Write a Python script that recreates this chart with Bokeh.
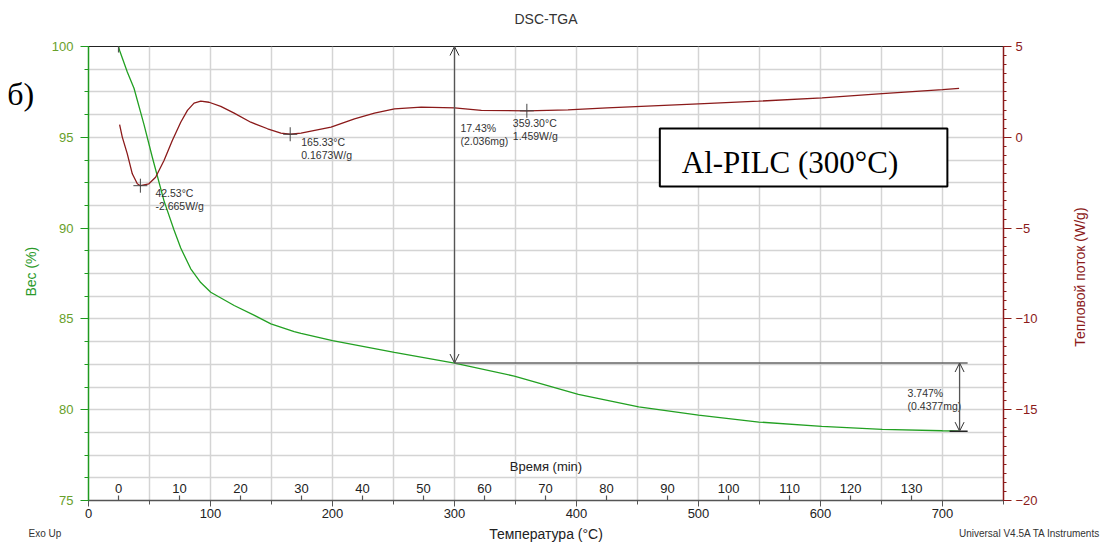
import numpy as np
from bokeh.plotting import figure
from bokeh.models import (Range1d, LinearAxis, SingleIntervalTicker, Label,
                          Arrow, OpenHead, BoxAnnotation)
from bokeh.core.properties import value
from bokeh.embed import file_html
from bokeh.resources import INLINE

# ---------------- data ----------------
tga_temp = [24.6, 25.5, 31.8, 37.3, 45.5, 52.3, 61.9, 70.1, 75.6, 83.8, 92.0, 100.2,
            119.4, 136.0, 149.5, 168.6, 174.2, 200.0, 250.7, 300.0, 349.0, 401.5,
            451.0, 500.0, 549.5, 601.0, 650.6, 700.0, 714.0]
tga_weight = [100.0, 99.78, 98.6, 97.7, 95.7, 93.9, 91.5, 89.9, 88.9, 87.76, 87.0, 86.47,
              85.74, 85.19, 84.73, 84.3, 84.2, 83.8, 83.16, 82.57, 81.85, 80.85,
              80.15, 79.7, 79.32, 79.08, 78.92, 78.84, 78.82]

dsc_temp = [25.5, 27.7, 31.8, 35.9, 40.0, 42.53, 49.5, 55.0, 61.9, 68.7, 75.6, 81.1,
            86.5, 92.0, 98.8, 108.4, 119.4, 133.0, 146.8, 157.7, 165.33, 174.2, 198.8,
            218.0, 234.4, 250.8, 272.7, 300.0, 322.0, 359.3, 393.0, 425.0, 500.0,
            549.3, 601.3, 650.6, 700.0, 713.6]
dsc_flow = [0.70, 0.01, -0.91, -2.01, -2.56, -2.665, -2.56, -2.2, -1.28, -0.18, 0.83, 1.48,
            1.88, 1.99, 1.93, 1.70, 1.33, 0.83, 0.47, 0.23, 0.1673, 0.23, 0.56,
            1.02, 1.33, 1.57, 1.66, 1.62, 1.48, 1.459, 1.51, 1.62, 1.84,
            1.99, 2.17, 2.40, 2.62, 2.69]

peak_temp = [42.53, 165.33, 359.30]
peak_flow = [-2.665, 0.1673, 1.459]

step_temp = [300.0, 714.0]
step_w_start = [100.0, 82.57]
step_w_end = [82.57, 78.82]
step_loss_pct = [17.43, 3.747]
step_loss_mg = [2.036, 0.4377]

time_ticks = [0, 10, 20, 30, 40, 50, 60, 70, 80, 90, 100, 110, 120, 130]
time_start_temp = 24.6     # °C at t = 0
heating_rate = 5.0         # °C / min

FONT = "Liberation Sans"
GREEN = "#1f9a1f"
GREEN_LBL = "#68a02a"
RED = "#8b1a1a"

# ---------------- figure ----------------
p = figure(width=1105, height=546, x_range=Range1d(0, 750), y_range=Range1d(75, 100),
           output_backend="svg", toolbar_location=None,
           min_border_left=88, min_border_right=102, min_border_top=46, min_border_bottom=46)
p.background_fill_color = "white"
p.border_fill_color = "white"
p.outline_line_color = "#222222"
p.outline_line_width = 1

p.extra_y_ranges = {"hf": Range1d(-20, 5)}

# left axis
ly = p.yaxis[0]
ly.ticker = SingleIntervalTicker(interval=5, num_minor_ticks=4)
ly.axis_line_color = GREEN
ly.axis_line_width = 1.5
ly.major_tick_line_color = GREEN
ly.minor_tick_line_color = GREEN
ly.major_tick_out = 8
ly.major_tick_in = 0
ly.minor_tick_out = 4
ly.minor_tick_in = 0
ly.major_label_standoff = 7
ly.major_label_text_color = GREEN_LBL
ly.major_label_text_font = FONT
ly.major_label_text_font_size = "13px"

# right axis
ry = LinearAxis(y_range_name="hf", ticker=SingleIntervalTicker(interval=5, num_minor_ticks=10))
ry.axis_line_color = RED
ry.axis_line_width = 1.5
ry.major_tick_line_color = RED
ry.minor_tick_line_color = RED
ry.major_tick_out = 8
ry.major_tick_in = 0
ry.minor_tick_out = 3
ry.minor_tick_in = 0
ry.major_label_standoff = 4
ry.major_label_text_color = RED
ry.major_label_text_font = FONT
ry.major_label_text_font_size = "13px"
p.add_layout(ry, "right")

# bottom axis (temperature)
bx = p.xaxis[0]
bx.ticker = SingleIntervalTicker(interval=100, num_minor_ticks=2)
bx.axis_line_color = "#555555"
bx.axis_line_width = 1.5
bx.major_tick_line_color = "#555555"
bx.minor_tick_line_color = "#555555"
bx.major_tick_out = 6
bx.major_tick_in = 0
bx.minor_tick_out = 4
bx.minor_tick_in = 0
bx.major_label_standoff = 2
bx.major_label_text_color = "#222222"
bx.major_label_text_font = FONT
bx.major_label_text_font_size = "13px"
bx.axis_label = "Температура (°C)"
bx.axis_label_standoff = 5
bx.axis_label_text_font = FONT
bx.axis_label_text_font_size = "14px"
bx.axis_label_text_font_style = "normal"
bx.axis_label_text_color = "#222222"

# grids
p.xgrid.ticker = SingleIntervalTicker(interval=50)
p.ygrid.ticker = SingleIntervalTicker(interval=1.25)
for g in (p.xgrid[0], p.ygrid[0]):
    g.grid_line_color = "#d4d4d4"
    g.grid_line_width = 1.5

# ---------------- curves ----------------
p.line(tga_temp, tga_weight, line_color="#22a022", line_width=1.3)
p.line(dsc_temp, dsc_flow, y_range_name="hf", line_color=RED, line_width=1.3)

# start marker of TGA
p.scatter([tga_temp[0]], [tga_weight[0]], marker="dash", angle=np.pi / 2, size=12,
          line_color="#555555", line_width=1.2)

# peak crosses and labels
p.scatter(peak_temp, peak_flow, y_range_name="hf", marker="cross", size=14,
          line_color="#444444", line_width=1)
peak_xoff = [15, 11, -14]
peak_yoff = [7, 8, 12]
line1 = [f"{t:.2f}°C" for t in peak_temp]
line2 = [f"{w:.4g}W/g" for w in peak_flow]
for i in range(len(peak_temp)):
    for txt, extra in ((line1[i], 0), (line2[i], 13)):
        p.text([peak_temp[i]], [peak_flow[i]], text=[txt], y_range_name="hf",
               x_offset=peak_xoff[i], y_offset=peak_yoff[i] + extra,
               text_font=value(FONT), text_font_size="10.5px", text_color="#333333",
               text_align="left", text_baseline="middle")

# time axis drawn inside the plot
time_x = [time_start_temp + heating_rate * t for t in time_ticks]
p.segment(x0=time_x, y0=[75] * len(time_x), x1=time_x, y1=[75.28] * len(time_x),
          line_color="#555555", line_width=1.2)
p.text(time_x, [75] * len(time_x), text=[str(t) for t in time_ticks], y_offset=-12,
       text_font=value(FONT), text_font_size="13px", text_color="#222222",
       text_align="center", text_baseline="middle")
p.add_layout(Label(x=375, y=76.87, text="Время (min)", text_font=FONT,
                   text_font_size="13px", text_color="#222222",
                   text_align="center", text_baseline="middle"))

# step analysis
p.segment(x0=[step_temp[0]], y0=[step_w_end[0]], x1=[720.6], y1=[step_w_end[0]],
          line_color="#666666", line_width=1.5)
p.segment(x0=[705.8], y0=[step_w_end[1]], x1=[720.6], y1=[step_w_end[1]],
          line_color="#222222", line_width=1.5)
for i in range(len(step_temp)):
    p.add_layout(Arrow(x_start=step_temp[i], y_start=step_w_end[i],
                       x_end=step_temp[i], y_end=step_w_start[i],
                       start=OpenHead(size=9, line_color="#333333", line_width=1),
                       end=OpenHead(size=9, line_color="#333333", line_width=1),
                       line_color="#555555", line_width=1.3))
step_anchor_y = [step_w_start[0], step_w_start[1]]
step_xoff = [6, -52]
step_yoff = [81, 30]
for i in range(len(step_temp)):
    for txt, extra in ((f"{step_loss_pct[i]:.4g}%", 0), (f"({step_loss_mg[i]:.4g}mg)", 13)):
        p.text([step_temp[i]], [step_anchor_y[i]], text=[txt],
               x_offset=step_xoff[i], y_offset=step_yoff[i] + extra,
               text_font=value(FONT), text_font_size="10.5px", text_color="#333333",
               text_align="left", text_baseline="middle")

# sample box
p.add_layout(BoxAnnotation(left=468.3, right=704.0, bottom=92.29, top=95.48,
                           fill_color="white", fill_alpha=1.0,
                           line_color="black", line_width=2, line_alpha=1.0))
p.add_layout(Label(x=486.3, y=93.62, text="Al-PILC (300°C)", text_font="Liberation Serif",
                   text_font_size="31px", text_color="black",
                   text_align="left", text_baseline="middle"))

# ---------------- texts around the frame (side-panel labels, placed in data units) ----------------
def side_label(side, x, y, text, size, color="#222222", align="center", font=FONT, angle=0.0):
    p.add_layout(Label(x=x, y=y, text=text, text_font=font, text_font_size=size,
                       text_color=color, text_align=align, text_baseline="middle",
                       angle=angle), side)

side_label("above", 375.0, 101.54, "DSC-TGA", "14px", color="#333333")
side_label("above", 829.5, 73.18, "Universal V4.5A TA Instruments", "10px",
           color="#333333", align="right")
side_label("right", -49.2, 73.18, "Exo Up", "10px", color="#333333", align="left")
side_label("left", -66.6, 97.4, "б)", "32px", color="black", align="left",
           font="Liberation Serif")
side_label("left", -47.5, 87.6, "Вес (%)", "14px", color="#2a9a2a", angle=np.pi / 2)
side_label("right", 813.1, 87.3, "Тепловой поток (W/g)", "14px", color=RED,
           angle=np.pi / 2)

open("out.html", "w").write(file_html(p, INLINE))
